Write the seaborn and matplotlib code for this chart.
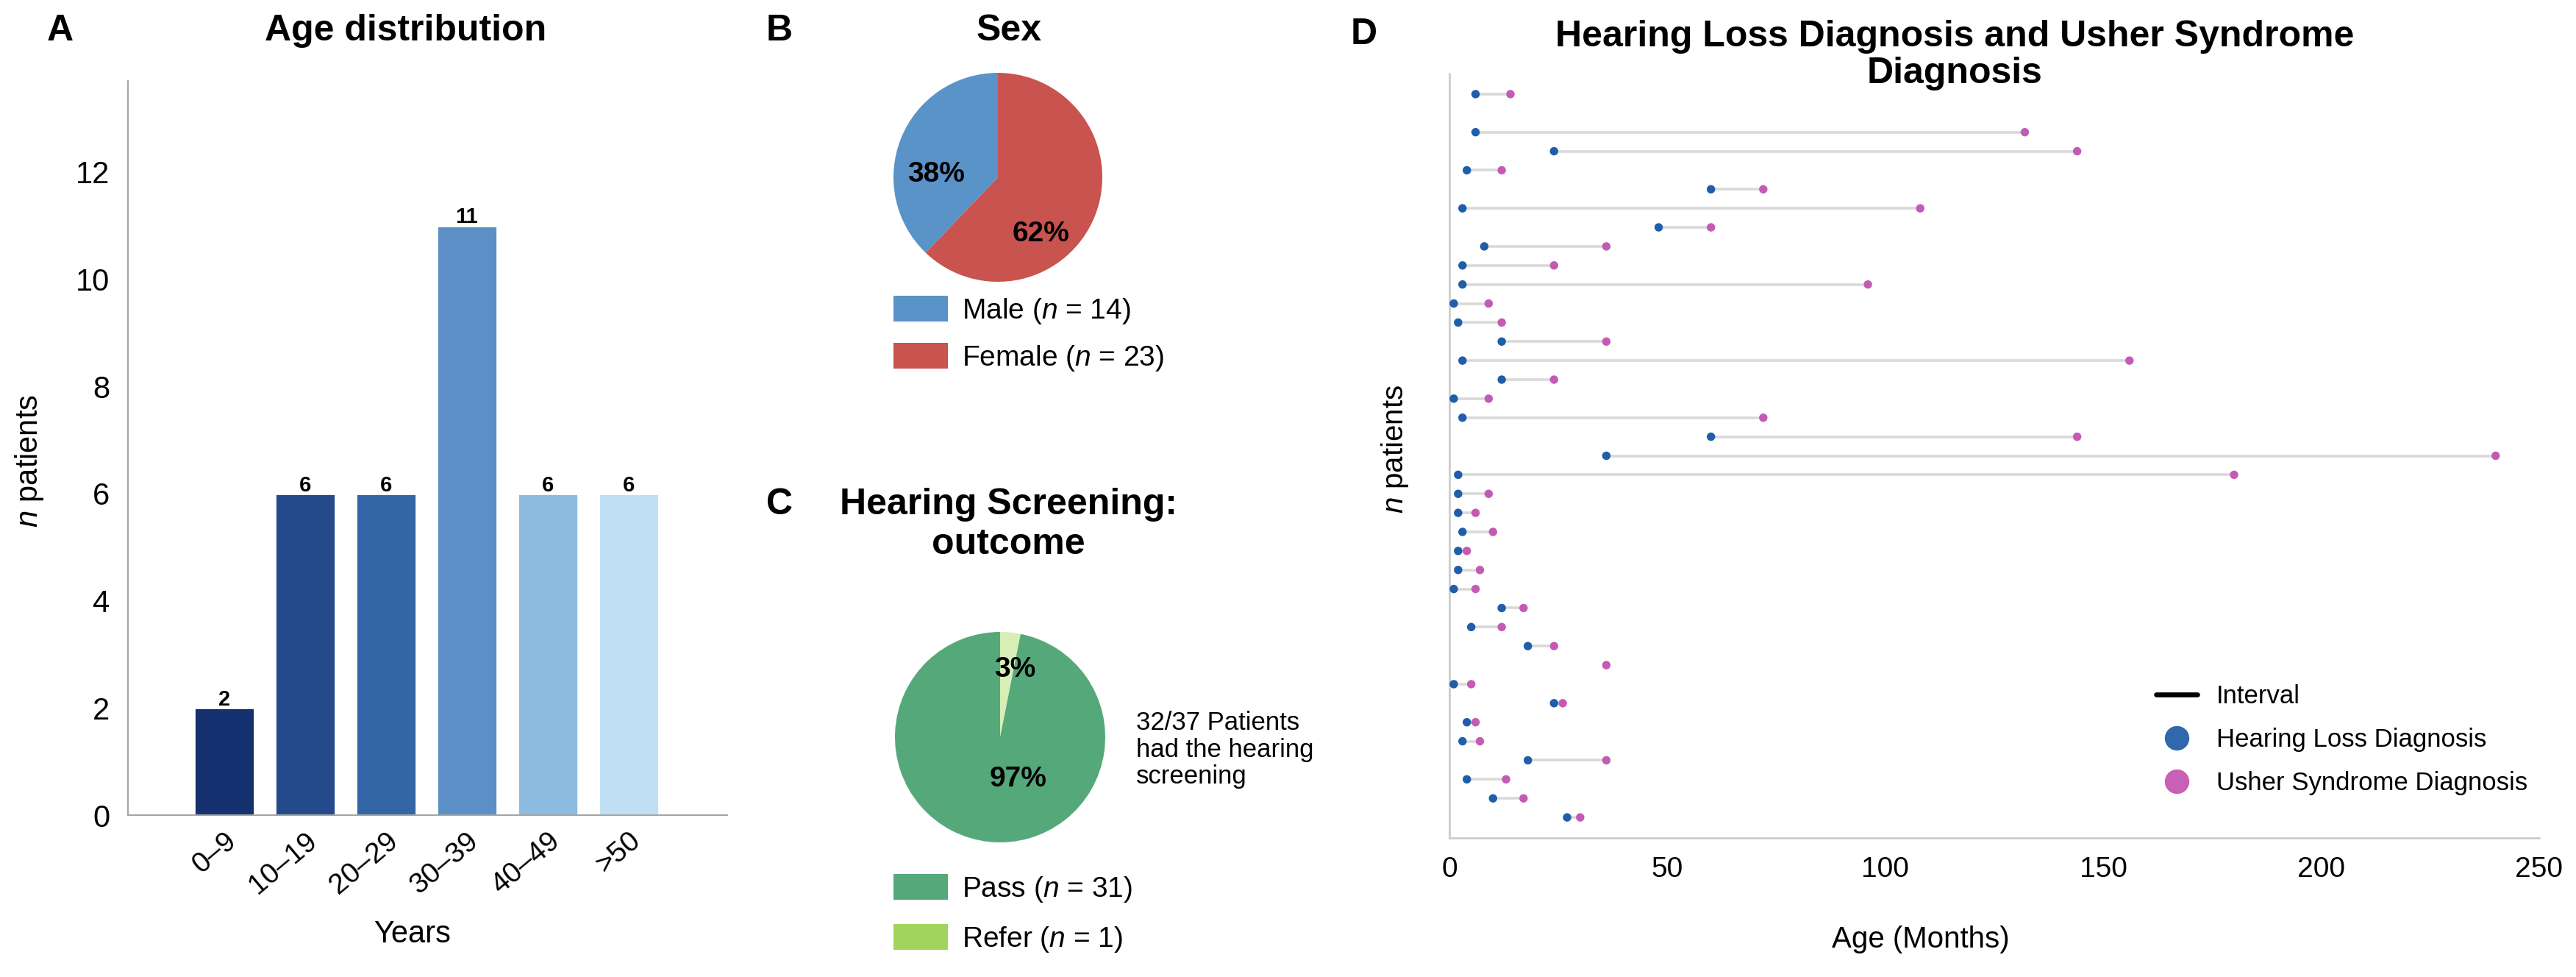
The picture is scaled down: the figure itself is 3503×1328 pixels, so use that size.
import numpy as np
import pandas as pd
import matplotlib
matplotlib.use("Agg")
import matplotlib.pyplot as plt
import seaborn as sns
from matplotlib.patches import Patch
from matplotlib.lines import Line2D

# ---- data ----
# A: age distribution
age_groups = ["0–9", "10–19", "20–29", "30–39", "40–49", ">50"]
age_counts = [2, 6, 6, 11, 6, 6]
age_colors = ["#15306e", "#244a8b", "#3366a6", "#5b8fc6", "#8dbadf", "#bfe0f4"]

# B: sex
sex_labels = ["Male", "Female"]
sex_counts = [14, 23]
sex_pct = ["38%", "62%"]
sex_colors = ["#5a93c8", "#c8534f"]

# C: hearing screening outcome
screen_labels = ["Refer", "Pass"]
screen_counts = [1, 31]
screen_pct = ["3%", "97%"]
screen_colors = ["#d7efb6", "#55a87a"]
screen_legend_colors = ["#a0d45c", "#55a87a"]
screen_note = "32/37 Patients\nhad the hearing\nscreening"

# D: age (months) at hearing loss diagnosis / usher syndrome diagnosis, one row per patient
hl_age = [6, np.nan, 6, 24, 4, 60, 3, 48, 8, 3, 3, 1, 2, 12, 3, 12, 1, 3, 60, 36,
          2, 2, 2, 3, 2, 2, 1, 12, 5, 18, np.nan, 1, 24, 4, 3, 18, 4, 10, 27]
us_age = [14, np.nan, 132, 144, 12, 72, 108, 60, 36, 24, 96, 9, 12, 36, 156, 24, 9, 72, 144, 240,
          180, 9, 6, 10, 4, 7, 6, 17, 12, 24, 36, 5, 26, 6, 7, 36, 13, 17, 30]
d_xticks = [0, 50, 100, 150, 200, 250]

blue = "#1f5ea8"
pink = "#c35bb5"

sns.set_style("white")
plt.rcParams["font.family"] = ["Liberation Sans", "DejaVu Sans"]
plt.rcParams["mathtext.fontset"] = "custom"
plt.rcParams["mathtext.rm"] = "Liberation Sans"
plt.rcParams["mathtext.it"] = "Liberation Sans:italic"
plt.rcParams["text.color"] = "black"
plt.rcParams["xtick.labelcolor"] = "black"
plt.rcParams["ytick.labelcolor"] = "black"

W, H = 3503, 1328
fig = plt.figure(figsize=(W / 200, H / 200), dpi=200)


def fx(px):
    return px / W


def fy(py):
    return 1 - py / H


# ---------------- A ----------------
ax_a = fig.add_axes([fx(174), fy(1108), fx(989 - 174), (1108 - 110) / H])
sns.barplot(x=age_groups, y=age_counts, hue=age_groups, palette=age_colors,
            legend=False, width=0.75, saturation=1, ax=ax_a)
for c in ax_a.containers:
    ax_a.bar_label(c, fmt="%d", fontsize=10.5, fontweight="bold", padding=-1)
ax_a.set_xlim(-1.19, 6.22)
ax_a.set_ylim(0, 13.7)
ax_a.set_yticks(range(0, 13, 2))
ax_a.tick_params(axis="y", length=0, pad=9, labelsize=15)
ax_a.tick_params(axis="x", direction="in", length=4, width=0.8, color="#7f7f7f",
                 pad=6, labelsize=14)
plt.setp(ax_a.get_xticklabels(), rotation=40, ha="right", rotation_mode="anchor")
for s in ["top", "right"]:
    ax_a.spines[s].set_visible(False)
for s in ["left", "bottom"]:
    ax_a.spines[s].set_color("#a6a6a6")
    ax_a.spines[s].set_linewidth(0.8)
ax_a.set_xlabel("")
ax_a.set_ylabel("")
fig.text(fx(82), fy(42), "A", fontsize=18, fontweight="bold", ha="center", va="center")
fig.text(fx(552), fy(42), "Age distribution", fontsize=18, fontweight="bold",
         ha="center", va="center")
fig.text(fx(561), fy(1270), "Years", fontsize=15, ha="center", va="center")
fig.text(fx(40), fy(627), "$n$ patients", fontsize=15, rotation=90, ha="center", va="center")

# ---------------- B ----------------
ax_b = fig.add_axes([fx(1357 - 142), fy(241 + 142), fx(284), 284 / H])
ax_b.pie(sex_counts, colors=sex_colors, startangle=90, counterclock=True,
         wedgeprops=dict(linewidth=0))
ax_b.set_xlim(-1, 1)
ax_b.set_ylim(-1, 1)
ax_b.text(-0.59, 0.03, sex_pct[0], fontsize=14, fontweight="bold", ha="center", va="center")
ax_b.text(0.41, -0.54, sex_pct[1], fontsize=14, fontweight="bold", ha="center", va="center")
fig.text(fx(1060), fy(42), "B", fontsize=18, fontweight="bold", ha="center", va="center")
fig.text(fx(1372), fy(42), "Sex", fontsize=18, fontweight="bold", ha="center", va="center")
sex_handles = [Patch(facecolor=c, edgecolor="none") for c in sex_colors]
sex_texts = [f"{l} ($n$ = {n})" for l, n in zip(sex_labels, sex_counts)]
fig.legend(sex_handles, sex_texts, loc="upper left", bbox_to_anchor=(fx(1215), fy(402)),
           frameon=False, fontsize=14, borderpad=0, borderaxespad=0, handlelength=1.9,
           handleheight=1.0, handletextpad=0.5, labelspacing=0.6)

# ---------------- C ----------------
ax_c = fig.add_axes([fx(1360 - 143), fy(1002 + 143), fx(286), 286 / H])
ax_c.pie(screen_counts, colors=screen_colors, startangle=90, counterclock=False,
         wedgeprops=dict(linewidth=0))
ax_c.set_xlim(-1, 1)
ax_c.set_ylim(-1, 1)
ax_c.text(0.14, 0.64, screen_pct[0], fontsize=14, fontweight="bold", ha="center", va="center")
ax_c.text(0.17, -0.40, screen_pct[1], fontsize=14, fontweight="bold", ha="center", va="center")
fig.text(fx(1060), fy(686), "C", fontsize=18, fontweight="bold", ha="center", va="center")
fig.text(fx(1371), fy(713), "Hearing Screening:\noutcome", fontsize=18, fontweight="bold",
         ha="center", va="center", linespacing=1.2)
fig.text(fx(1545), fy(1019), screen_note, fontsize=12.5, ha="left", va="center",
         linespacing=1.15)
scr_handles = [Patch(facecolor=c, edgecolor="none") for c in screen_legend_colors[::-1]]
scr_texts = [f"{l} ($n$ = {n})" for l, n in zip(screen_labels[::-1], screen_counts[::-1])]
fig.legend(scr_handles, scr_texts, loc="upper left", bbox_to_anchor=(fx(1215), fy(1188)),
           frameon=False, fontsize=14, borderpad=0, borderaxespad=0, handlelength=1.9,
           handleheight=1.0, handletextpad=0.5, labelspacing=0.7)

# ---------------- D ----------------
ax_d = fig.add_axes([fx(1971), fy(1139), fx(3453 - 1971), (1139 - 100) / H])
df = pd.DataFrame({"row": np.arange(len(hl_age)), "hl": hl_age, "us": us_age})
both = df.dropna()
ax_d.hlines(both["row"], both["hl"], both["us"], color="#d9d9d9", lw=1.3, zorder=1)
sns.scatterplot(data=df, x="hl", y="row", color=blue, s=17, edgecolor="none",
                ax=ax_d, zorder=3, clip_on=False)
sns.scatterplot(data=df, x="us", y="row", color=pink, s=17, edgecolor="none",
                ax=ax_d, zorder=3, clip_on=False)
ax_d.set_xlim(0, 250)
ax_d.set_ylim(len(hl_age) - 1 + 1.08, -1.08)
ax_d.set_xticks(d_xticks)
ax_d.set_yticks(df["row"])
ax_d.set_yticklabels([])
ax_d.tick_params(axis="y", direction="in", length=5, width=0.8, color="#c8c8c8")
ax_d.tick_params(axis="x", direction="in", length=6, width=0.8, color="#c8c8c8",
                 pad=9, labelsize=14)
for s in ["top", "right"]:
    ax_d.spines[s].set_visible(False)
for s in ["left", "bottom"]:
    ax_d.spines[s].set_color("#c8c8c8")
    ax_d.spines[s].set_linewidth(0.9)
ax_d.set_xlabel("")
ax_d.set_ylabel("")
fig.text(fx(1855), fy(47), "D", fontsize=18, fontweight="bold", ha="center", va="center")
fig.text(fx(2658), fy(75), "Hearing Loss Diagnosis and Usher Syndrome\nDiagnosis",
         fontsize=18, fontweight="bold", ha="center", va="center", linespacing=1.1)
fig.text(fx(2612), fy(1277), "Age (Months)", fontsize=14.5, ha="center", va="center")
fig.text(fx(1897), fy(610), "$n$ patients", fontsize=14.5, rotation=90,
         ha="center", va="center")
d_handles = [Line2D([], [], color="black", lw=2.4),
             Line2D([], [], ls="none", marker="o", ms=12, color="#2f68ad", mec="none"),
             Line2D([], [], ls="none", marker="o", ms=12, color="#c860b5", mec="none")]
ax_d.legend(d_handles, ["Interval", "Hearing Loss Diagnosis", "Usher Syndrome Diagnosis"],
            loc="upper left", bbox_to_anchor=(fx(2932), fy(930)),
            bbox_transform=fig.transFigure, frameon=False, fontsize=12.5, borderpad=0,
            borderaxespad=0, handlelength=1.6, handletextpad=0.75, labelspacing=0.75)

fig.savefig("out.png", dpi=200, facecolor="white")
